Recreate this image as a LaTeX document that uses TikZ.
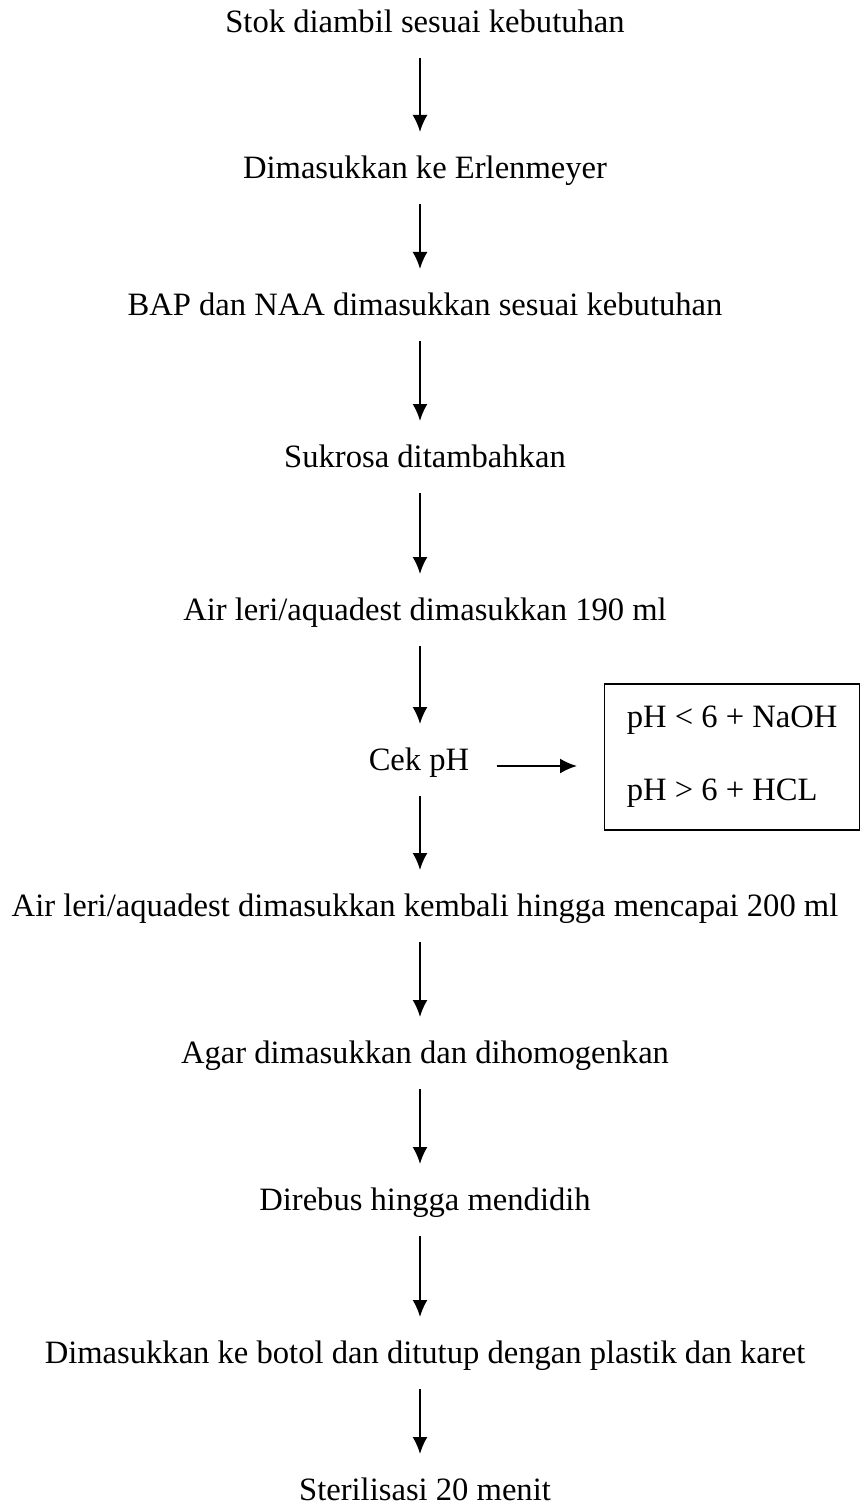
\documentclass[tikz,border=0pt]{standalone}
\usepackage{fontspec}
\setmainfont{Liberation Serif}
\usetikzlibrary{arrows.meta}

\begin{document}
\begin{tikzpicture}[x=0.5pt,y=-0.5pt,>={Latex[length=8.5pt,width=7.5pt]},
    steptext/.style={inner sep=0pt,text height=0.7em,text depth=0.25em,font=\fontsize{16.3}{19}\selectfont},
    flow/.style={->,line width=1pt,shorten <=15pt,shorten >=21pt}]
        \def\mx{425}
        \useasboundingbox (0,0) rectangle (860,1508);
        \coordinate (axis) at (420,0);

        \node[steptext] (s1) at (\mx,28) {Stok diambil sesuai kebutuhan};
        \node[steptext] (s2) at (\mx,174) {Dimasukkan ke Erlenmeyer};
        \node[steptext] (s3) at (\mx,311) {BAP dan NAA dimasukkan sesuai kebutuhan};
        \node[steptext] (s4) at (\mx,463) {Sukrosa ditambahkan};
        \node[steptext] (s5) at (\mx,616) {Air leri/aquadest dimasukkan 190 ml};
        \node[steptext] (s6) at (419,766) {Cek pH};
        \node[steptext] (s7) at (\mx,912) {Air leri/aquadest dimasukkan kembali hingga mencapai 200 ml};
        \node[steptext] (s8) at (\mx,1059) {Agar dimasukkan dan dihomogenkan};
        \node[steptext] (s9) at (\mx,1206) {Direbus hingga mendidih};
        \node[steptext] (s10) at (\mx,1359) {Dimasukkan ke botol dan ditutup dengan plastik dan karet};
        \node[steptext] (s11) at (\mx,1496) {Sterilisasi 20 menit};

        \node[draw,line width=0.6pt,anchor=west,align=left,inner xsep=10pt,
              minimum width=127.5pt,minimum height=73pt,font=\fontsize{16.3}{36.5}\selectfont] (ph) at (604,757)
              {\raisebox{-2pt}{pH < 6 + NaOH}\\\raisebox{-2pt}{pH > 6 + HCL}};

        \foreach \a/\b in {s1/s2,s2/s3,s3/s4,s4/s5,s5/s6,s6/s7,s7/s8,s8/s9,s9/s10,s10/s11}
            \draw[flow] (\a -| axis) -- (\b -| axis);

        \draw[->,line width=1pt,shorten <=13.5pt,shorten >=13.5pt] (s6.east) -- (s6.east -| ph.west);
    \end{tikzpicture}
\end{document}
